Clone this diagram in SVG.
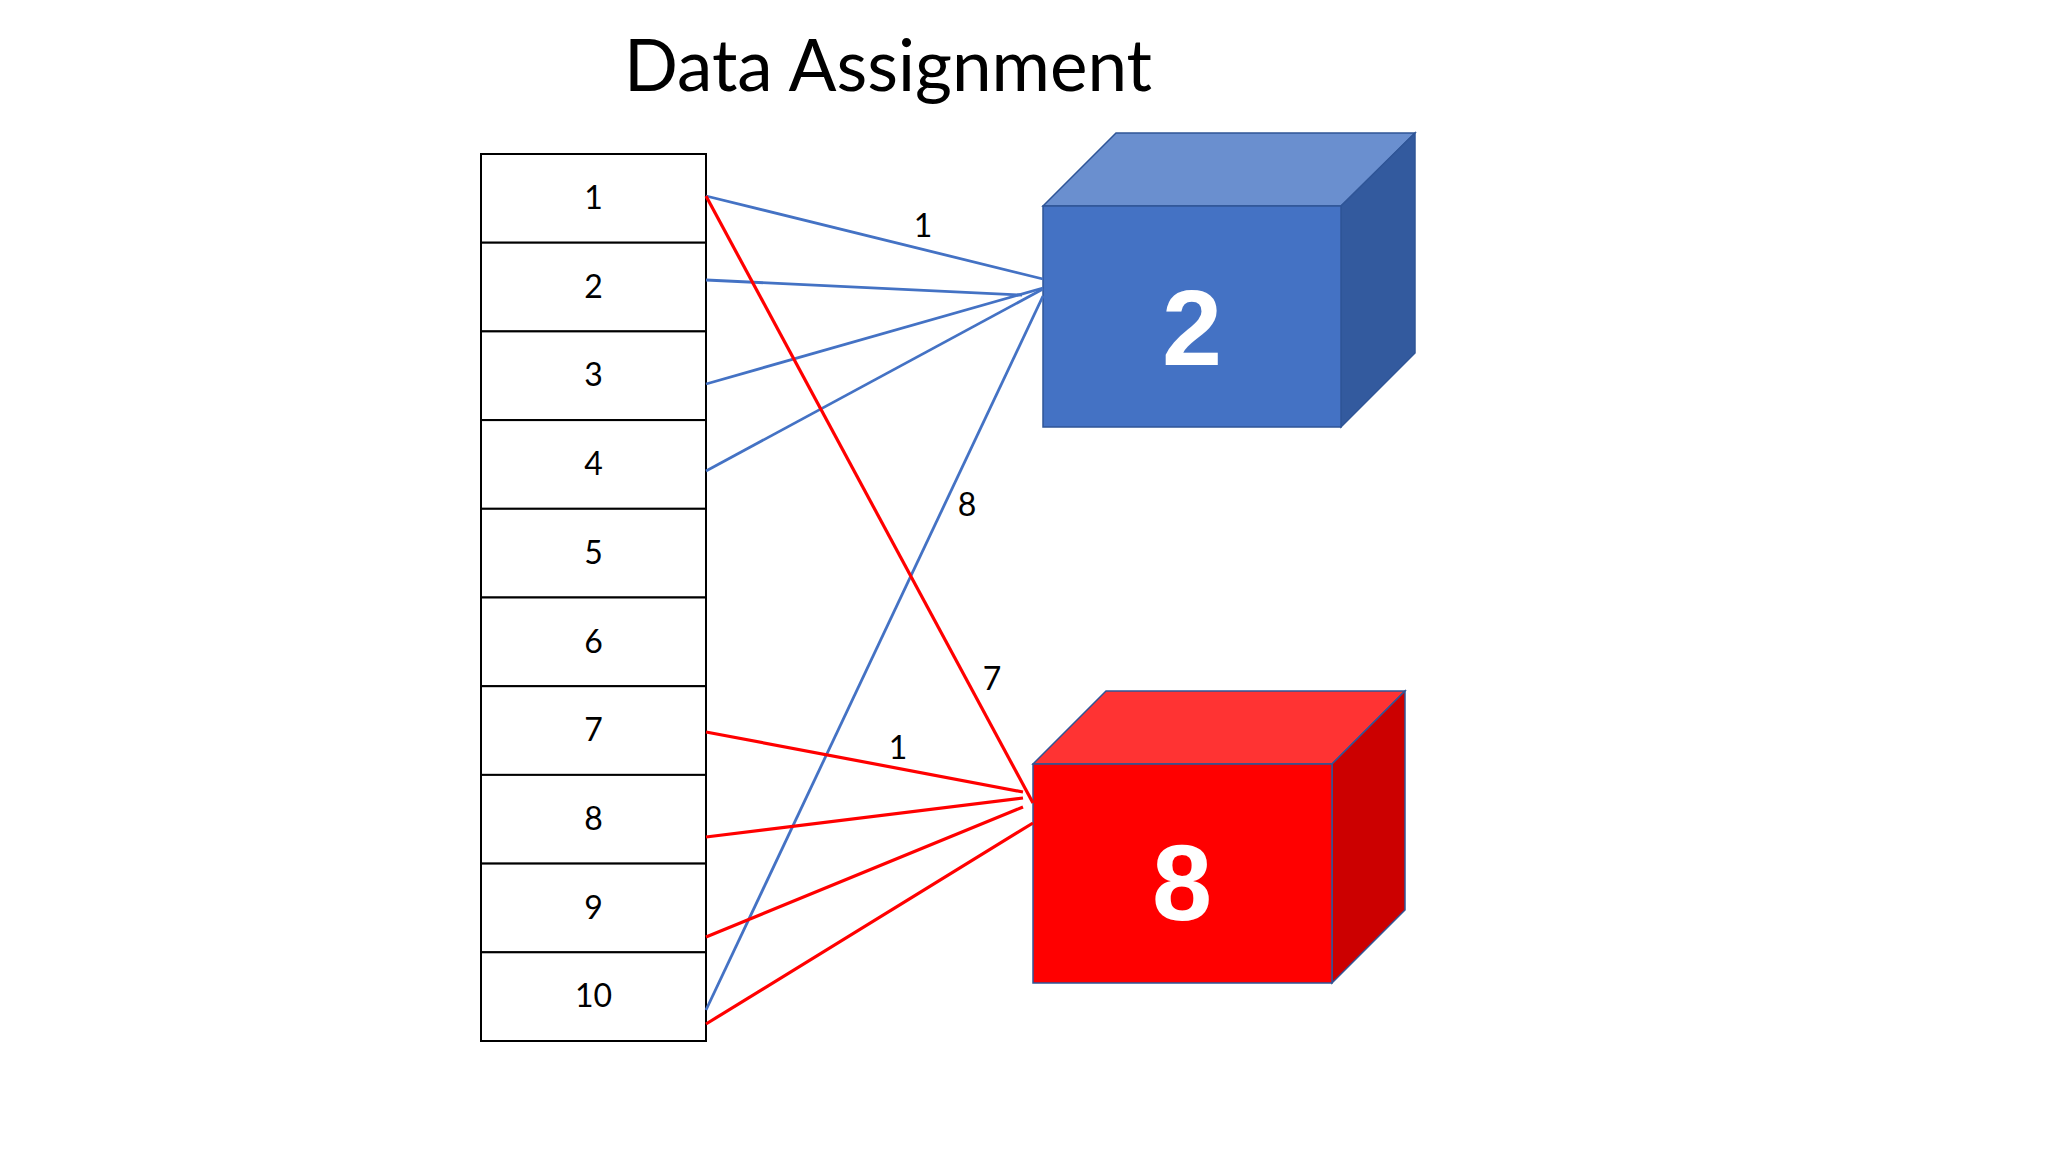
<svg xmlns="http://www.w3.org/2000/svg" width="2048" height="1152" viewBox="0 0 2048 1152">
<style>
.cell{fill:#ffffff;stroke:#000000;stroke-width:2}
.num{font-family:Lato,"Liberation Sans",sans-serif;font-size:32px;fill:#000000;text-anchor:middle}
.lbl{font-family:Lato,"Liberation Sans",sans-serif;font-size:32px;fill:#000000;text-anchor:middle}
.big{font-family:"Liberation Sans",Arial,sans-serif;font-weight:bold;font-size:108px;fill:#ffffff;text-anchor:middle}
.blue{stroke:#4472C4;stroke-width:2.8;fill:none}
.red{stroke:#FF0000;stroke-width:3.2;fill:none}
.edge{stroke:#2F5597;stroke-width:1.5}
</style>
<rect width="2048" height="1152" fill="#ffffff"/>
<text x="888" y="91" font-family="Lato,'Liberation Sans',sans-serif" font-size="71" fill="#000000" text-anchor="middle">Data Assignment</text>
<g id="table">
<g id="row1"><rect class="cell" x="481" y="154" width="225" height="88.7"/><text class="num" x="593.5" y="209">1</text></g>
<g id="row2"><rect class="cell" x="481" y="242.7" width="225" height="88.7"/><text class="num" x="593.5" y="297.7">2</text></g>
<g id="row3"><rect class="cell" x="481" y="331.4" width="225" height="88.7"/><text class="num" x="593.5" y="386.4">3</text></g>
<g id="row4"><rect class="cell" x="481" y="420.1" width="225" height="88.7"/><text class="num" x="593.5" y="475.1">4</text></g>
<g id="row5"><rect class="cell" x="481" y="508.8" width="225" height="88.7"/><text class="num" x="593.5" y="563.8">5</text></g>
<g id="row6"><rect class="cell" x="481" y="597.5" width="225" height="88.7"/><text class="num" x="593.5" y="652.5">6</text></g>
<g id="row7"><rect class="cell" x="481" y="686.2" width="225" height="88.7"/><text class="num" x="593.5" y="741.2">7</text></g>
<g id="row8"><rect class="cell" x="481" y="774.9" width="225" height="88.7"/><text class="num" x="593.5" y="829.9">8</text></g>
<g id="row9"><rect class="cell" x="481" y="863.6" width="225" height="88.7"/><text class="num" x="593.5" y="918.6">9</text></g>
<g id="row10"><rect class="cell" x="481" y="952.3" width="225" height="88.7"/><text class="num" x="593.5" y="1007.3">10</text></g>
</g>
<g id="server2">
<polygon class="edge" fill="#6A8FCF" points="1043,206 1116,133 1415,133 1341,206"/>
<polygon class="edge" fill="#335A9E" points="1341,206 1415,133 1415,353 1341,427"/>
<rect class="edge" fill="#4472C4" x="1043" y="206" width="298" height="221"/>
<text class="big" x="1192" y="365">2</text>
</g>
<g id="server8">
<polygon class="edge" fill="#FF3333" points="1033,764 1106,691 1405,691 1332,764"/>
<polygon class="edge" fill="#CC0000" points="1332,764 1405,691 1405,910 1332,983"/>
<rect class="edge" fill="#FF0000" x="1033" y="764" width="299" height="219"/>
<text class="big" x="1182" y="920">8</text>
</g>
<g id="connectors">
<line class="blue" x1="706" y1="196" x2="1043" y2="279"/>
<line class="blue" x1="706" y1="280" x2="1022" y2="295"/>
<line class="blue" x1="706" y1="384" x2="1043" y2="288"/>
<line class="blue" x1="706" y1="471" x2="1043" y2="289"/>
<line class="blue" x1="706" y1="1010" x2="1043" y2="296" stroke-width="2.2"/>
<line class="red" x1="706" y1="196" x2="1033" y2="803" stroke-width="2.8"/>
<line class="red" x1="706" y1="732" x2="1023" y2="792"/>
<line class="red" x1="706" y1="837" x2="1023" y2="798"/>
<line class="red" x1="706" y1="937" x2="1023" y2="807"/>
<line class="red" x1="706" y1="1024" x2="1033" y2="823"/>
<text class="lbl" x="923" y="237">1</text>
<text class="lbl" x="967" y="516">8</text>
<text class="lbl" x="992" y="690">7</text>
<text class="lbl" x="898" y="759">1</text>
</g>
</svg>
